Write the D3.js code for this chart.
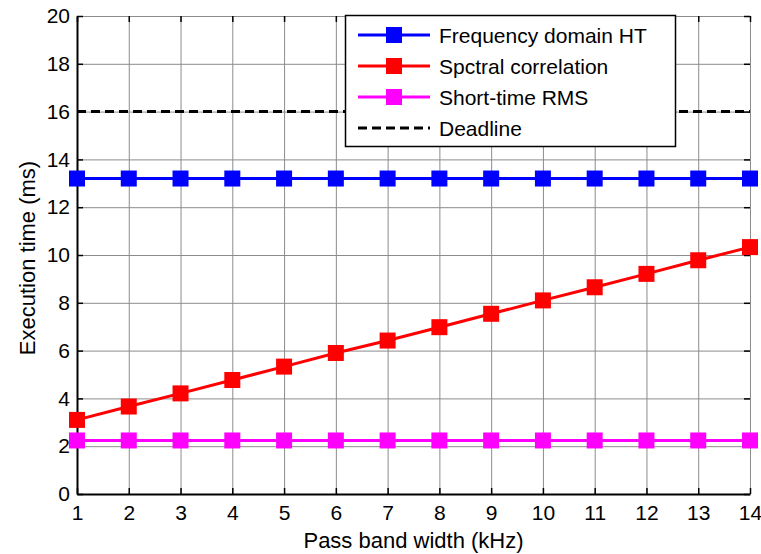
<!DOCTYPE html>
<html>
<head>
<meta charset="utf-8">
<script src="https://cdn.jsdelivr.net/npm/d3@7"></script>
<style>
  body { margin: 0; background: #fff; }
  svg { display: block; font-family: "Liberation Sans", Arial, sans-serif; }
</style>
</head>
<body>
<svg id="chart" width="761" height="554"></svg>
<script>
// Pass band width (kHz)
const bandwidths = [1, 2, 3, 4, 5, 6, 7, 8, 9, 10, 11, 12, 13, 14];
// Execution times (ms)
const freqDomainHT = [13.2, 13.2, 13.2, 13.2, 13.2, 13.2, 13.2, 13.2, 13.2, 13.2, 13.2, 13.2, 13.2, 13.2];
const spectralCorr = [3.1, 3.66, 4.21, 4.77, 5.33, 5.9, 6.42, 6.98, 7.54, 8.1, 8.65, 9.21, 9.78, 10.33];
const shortTimeRMS = [2.24, 2.24, 2.24, 2.24, 2.24, 2.24, 2.24, 2.24, 2.24, 2.24, 2.24, 2.24, 2.24, 2.24];
const deadline = 16;
const xTicks = [1, 2, 3, 4, 5, 6, 7, 8, 9, 10, 11, 12, 13, 14];
const yTicks = [0, 2, 4, 6, 8, 10, 12, 14, 16, 18, 20];

const series = [
  { name: "Frequency domain HT", values: freqDomainHT, color: "#0000ff" },
  { name: "Spctral correlation", values: spectralCorr, color: "#ff0000" },
  { name: "Short-time RMS", values: shortTimeRMS, color: "#ff00ff" }
];

const svg = d3.select("#chart");
const plotLeft = 77, plotRight = 750, plotTop = 16, plotBottom = 494;
const tickFont = 21, labelFont = 22, legendFont = 21;

const x = d3.scaleLinear().domain([1, 14]).range([plotLeft, plotRight]);
const y = d3.scaleLinear().domain([0, 20]).range([plotBottom, plotTop]);

// grid
const grid = svg.append("g").attr("stroke", "#8c8c8c").attr("stroke-width", 1);
grid.selectAll(".gx").data(xTicks).join("line")
  .attr("x1", d => x(d) + 0.5).attr("x2", d => x(d) + 0.5)
  .attr("y1", plotTop).attr("y2", plotBottom);
grid.selectAll(".gy").data(yTicks).join("line")
  .attr("x1", plotLeft).attr("x2", plotRight)
  .attr("y1", d => y(d) + 0.5).attr("y2", d => y(d) + 0.5);

// axes (ticks pointing inward)
const xAxis = svg.append("g").attr("transform", `translate(0,${plotBottom})`)
  .call(d3.axisBottom(x).tickValues(xTicks).tickFormat(d3.format("d")).tickSizeInner(-6).tickSizeOuter(0).tickPadding(11));
const yAxis = svg.append("g").attr("transform", `translate(${plotLeft},0)`)
  .call(d3.axisLeft(y).tickValues(yTicks).tickFormat(d3.format("d")).tickSizeInner(-6).tickSizeOuter(0).tickPadding(7));
// mirrored ticks on top and right
svg.append("g").attr("transform", `translate(0,${plotTop})`)
  .call(d3.axisTop(x).tickValues(xTicks).tickFormat("").tickSizeInner(-6).tickSizeOuter(0))
  .call(g => g.select(".domain").remove());
svg.append("g").attr("transform", `translate(${plotRight},0)`)
  .call(d3.axisRight(y).tickValues(yTicks).tickFormat("").tickSizeInner(-6).tickSizeOuter(0))
  .call(g => g.select(".domain").remove());

[xAxis, yAxis].forEach(g => {
  g.select(".domain").attr("stroke", "#000").attr("stroke-width", 2);
  g.selectAll("text").attr("font-size", tickFont).attr("fill", "#000")
    .attr("font-family", "'Liberation Sans', Arial, sans-serif");
});
svg.selectAll(".tick line").attr("stroke", "#000").attr("stroke-width", 1.5);

// deadline
svg.append("line")
  .attr("x1", plotLeft).attr("x2", plotRight)
  .attr("y1", y(deadline)).attr("y2", y(deadline))
  .attr("stroke", "#000").attr("stroke-width", 3).attr("stroke-dasharray", "9,5");

// series lines and markers
const line = d3.line().x((d, i) => x(bandwidths[i])).y(d => y(d));
const ms = 16;
series.forEach(s => {
  svg.append("path").datum(s.values)
    .attr("d", line).attr("fill", "none")
    .attr("stroke", s.color).attr("stroke-width", 3);
  svg.append("g").selectAll("rect").data(s.values).join("rect")
    .attr("x", (d, i) => x(bandwidths[i]) - ms / 2)
    .attr("y", d => y(d) - ms / 2)
    .attr("width", ms).attr("height", ms)
    .attr("fill", s.color);
});

// legend
const lg = svg.append("g");
lg.append("rect").attr("x", 345.5).attr("y", 15.5).attr("width", 330).attr("height", 131)
  .attr("fill", "#fff").attr("stroke", "#000").attr("stroke-width", 1.5);
const entries = series.map(s => ({ name: s.name, color: s.color, marker: true }))
  .concat([{ name: "Deadline", color: "#000", marker: false }]);
const ly = [35, 66, 97, 128];
entries.forEach((e, i) => {
  const yy = ly[i];
  lg.append("line").attr("x1", 358).attr("x2", 430).attr("y1", yy).attr("y2", yy)
    .attr("stroke", e.color).attr("stroke-width", 3)
    .attr("stroke-dasharray", e.marker ? null : "9,5");
  if (e.marker) {
    lg.append("rect").attr("x", 394 - ms / 2).attr("y", yy - ms / 2)
      .attr("width", ms).attr("height", ms).attr("fill", e.color);
  }
  lg.append("text").attr("x", 439).attr("y", yy + 8).attr("font-size", legendFont)
    .attr("fill", "#000").text(e.name);
});

// axis titles
svg.append("text").attr("x", (plotLeft + plotRight) / 2).attr("y", 548)
  .attr("text-anchor", "middle").attr("font-size", labelFont).text("Pass band width (kHz)");
svg.append("text").attr("transform", `translate(35,${(plotTop + plotBottom) / 2 + 3}) rotate(-90)`)
  .attr("text-anchor", "middle").attr("font-size", labelFont).text("Execution time (ms)");
</script>
</body>
</html>
